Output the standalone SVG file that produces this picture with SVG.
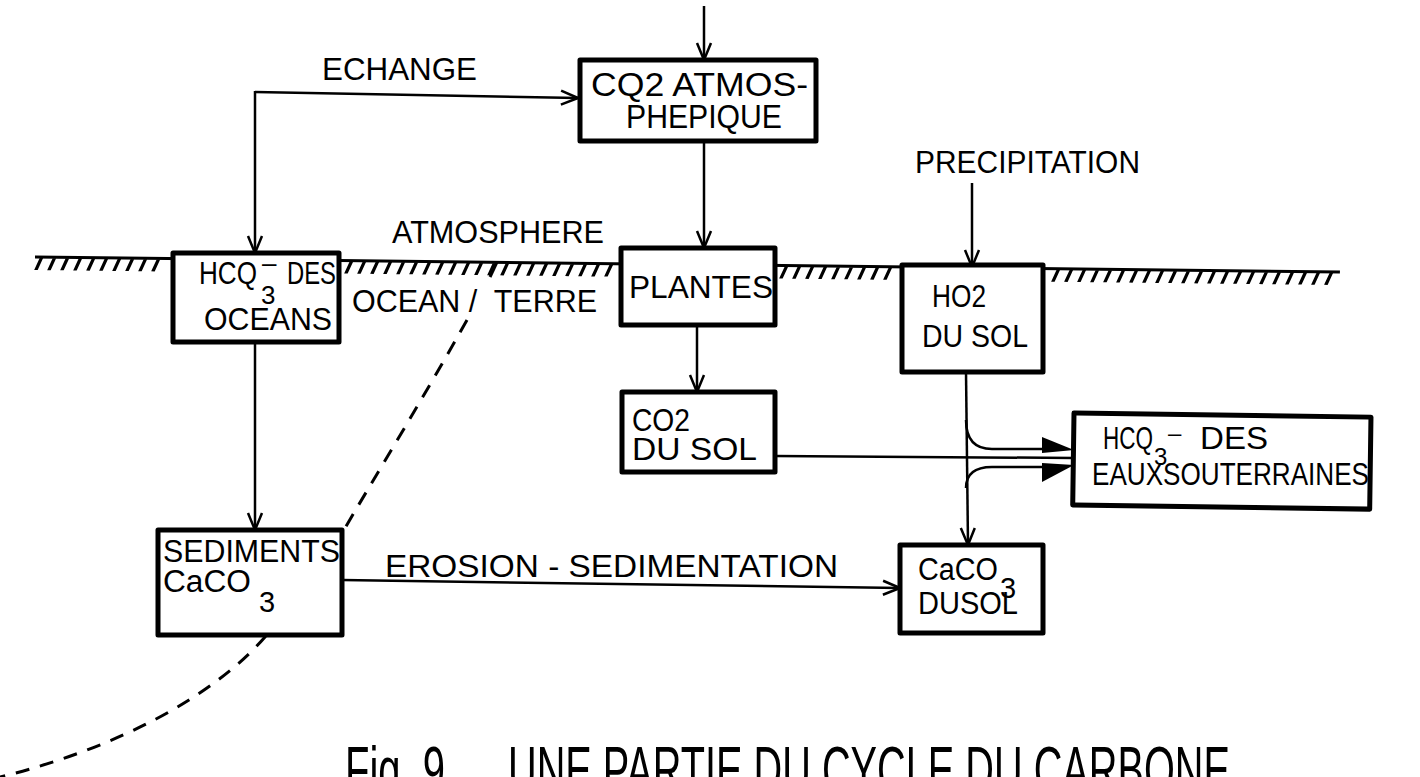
<svg xmlns="http://www.w3.org/2000/svg" width="1420" height="777" viewBox="0 0 1420 777">
<defs>
<style>
.box{fill:#fff;stroke:#000;stroke-width:5;stroke-linejoin:round}
.t{font-family:"Liberation Sans",Arial,sans-serif;font-size:31px;fill:#000}
.c{fill:none;stroke:#000;stroke-width:2.5}
.g{fill:none;stroke:#000;stroke-width:3}
.hs{fill:none;stroke:#000;stroke-width:12;stroke-dasharray:3.5 9.5}
.d{fill:none;stroke:#000;stroke-width:3;stroke-dasharray:14 11}
</style>
<marker id="a" viewBox="0 0 20 20" refX="19" refY="10" markerWidth="20" markerHeight="20" markerUnits="userSpaceOnUse" orient="auto">
<path d="M2,3 L19,10 L2,17" fill="none" stroke="#000" stroke-width="2.5"/>
</marker>
</defs>
<g id="ground" transform="rotate(0.66 35 257)">
<line class="g" x1="35" y1="257" x2="1340" y2="257"/>
<g transform="translate(0 264) skewX(-24)">
<line class="hs" x1="37" y1="0" x2="167" y2="0"/>
<line class="hs" x1="347" y1="0" x2="617" y2="0"/>
<line class="hs" x1="782" y1="0" x2="898" y2="0"/>
<line class="hs" x1="1054" y1="0" x2="1340" y2="0"/>
</g>
</g>
<g id="boundary">
<line class="g" x1="497" y1="262" x2="490" y2="277"/>
<path class="d" d="M467 320 C425 395 385 460 345 528 L265 637 C210 700 110 750 0 777"/>
</g>
<g id="connectors">
<line class="c" x1="704" y1="6" x2="704" y2="60" marker-end="url(#a)"/>
<line class="c" x1="255" y1="92" x2="578" y2="98" marker-end="url(#a)"/>
<line class="c" x1="255" y1="91" x2="255" y2="253" marker-end="url(#a)"/>
<line class="c" x1="704" y1="141" x2="704" y2="248" marker-end="url(#a)"/>
<line class="c" x1="697" y1="325" x2="697" y2="392" marker-end="url(#a)"/>
<line class="c" x1="255" y1="342" x2="255" y2="530" marker-end="url(#a)"/>
<line class="c" x1="342" y1="580" x2="900" y2="588" marker-end="url(#a)"/>
<line class="c" x1="972" y1="183" x2="972" y2="267" marker-end="url(#a)"/>
<line class="c" x1="966" y1="372" x2="968" y2="545" marker-end="url(#a)"/>
<line class="c" x1="775" y1="456" x2="1074" y2="458"/>
<path class="c" d="M966 420 Q966 449 992 449 L1045 449"/>
<path class="c" d="M966 488 Q966 467 992 467 L1045 467"/>
<path d="M1042 437 L1074 450 L1042 453 Z" fill="#000"/>
<path d="M1042 463 L1074 465 L1042 482 Z" fill="#000"/>
</g>
<g id="labels">
<text class="t" x="322" y="80" textLength="155" lengthAdjust="spacingAndGlyphs">ECHANGE</text>
<text class="t" x="915" y="173" textLength="225" lengthAdjust="spacingAndGlyphs">PRECIPITATION</text>
<text class="t" x="392" y="243" textLength="212" lengthAdjust="spacingAndGlyphs">ATMOSPHERE</text>
<text class="t" x="352" y="312" textLength="245" lengthAdjust="spacingAndGlyphs" xml:space="preserve">OCEAN /  TERRE</text>
<text class="t" x="385" y="577" textLength="453" lengthAdjust="spacingAndGlyphs">EROSION - SEDIMENTATION</text>
</g>
<g id="co2atm">
<rect class="box" x="580" y="60" width="236" height="81"/>
<text class="t" x="591" y="96" style="font-size:33px" textLength="217" lengthAdjust="spacingAndGlyphs">CQ2 ATMOS-</text>
<text class="t" x="626" y="128" style="font-size:33px" textLength="156" lengthAdjust="spacingAndGlyphs">PHEPIQUE</text>
</g>
<g id="hco3oceans">
<rect class="box" x="173" y="253" width="166" height="89"/>
<text class="t" x="199" y="284" textLength="58" lengthAdjust="spacingAndGlyphs">HCQ</text>
<text class="t" x="261" y="304" style="font-size:26px">3</text>
<text class="t" x="262" y="272" style="font-size:26px">–</text>
<text class="t" x="287" y="284" textLength="49" lengthAdjust="spacingAndGlyphs">DES</text>
<text class="t" x="204" y="330" textLength="128" lengthAdjust="spacingAndGlyphs">OCEANS</text>
</g>
<g id="plantes">
<rect class="box" x="621" y="248" width="154" height="77"/>
<text class="t" x="629" y="298" textLength="144" lengthAdjust="spacingAndGlyphs">PLANTES</text>
</g>
<g id="ho2sol">
<rect class="box" x="902" y="265" width="141" height="107"/>
<text class="t" x="932" y="307" textLength="54" lengthAdjust="spacingAndGlyphs">HO2</text>
<text class="t" x="922" y="347" textLength="106" lengthAdjust="spacingAndGlyphs">DU SOL</text>
</g>
<g id="co2sol">
<rect class="box" x="622" y="392" width="153" height="80"/>
<text class="t" x="632" y="431" textLength="58" lengthAdjust="spacingAndGlyphs">CO2</text>
<text class="t" x="632" y="460" textLength="125" lengthAdjust="spacingAndGlyphs">DU SOL</text>
</g>
<g id="hco3eaux">
<rect class="box" x="1074" y="413" width="297" height="92" transform="rotate(0.8 1074 413)"/>
<text class="t" x="1103" y="449" textLength="50" lengthAdjust="spacingAndGlyphs">HCQ</text>
<text class="t" x="1154" y="465" style="font-size:24px">3</text>
<text class="t" x="1168" y="441" style="font-size:24px">–</text>
<text class="t" x="1200" y="449" textLength="68" lengthAdjust="spacingAndGlyphs">DES</text>
<text class="t" x="1092" y="485" textLength="277" lengthAdjust="spacingAndGlyphs">EAUXSOUTERRAINES</text>
</g>
<g id="sediments">
<rect class="box" x="158" y="530" width="184" height="105"/>
<text class="t" x="163" y="562" textLength="177" lengthAdjust="spacingAndGlyphs">SEDIMENTS</text>
<text class="t" x="163" y="592" textLength="88" lengthAdjust="spacingAndGlyphs">CaCO</text>
<text class="t" x="259" y="612" style="font-size:29px">3</text>
</g>
<g id="caco3sol">
<rect class="box" x="900" y="545" width="143" height="88"/>
<text class="t" x="918" y="580" textLength="80" lengthAdjust="spacingAndGlyphs">CaCO</text>
<text class="t" x="1000" y="598" style="font-size:29px">3</text>
<text class="t" x="918" y="614" textLength="100" lengthAdjust="spacingAndGlyphs">DUSOL</text>
</g>
<g id="caption">
<text class="t" x="345" y="792" style="font-size:64px" textLength="100" lengthAdjust="spacingAndGlyphs">Fig. 9</text>
<text class="t" x="508" y="792" style="font-size:64px" textLength="722" lengthAdjust="spacingAndGlyphs">UNE PARTIE DU CYCLE DU CARBONE</text>
</g>
</svg>
